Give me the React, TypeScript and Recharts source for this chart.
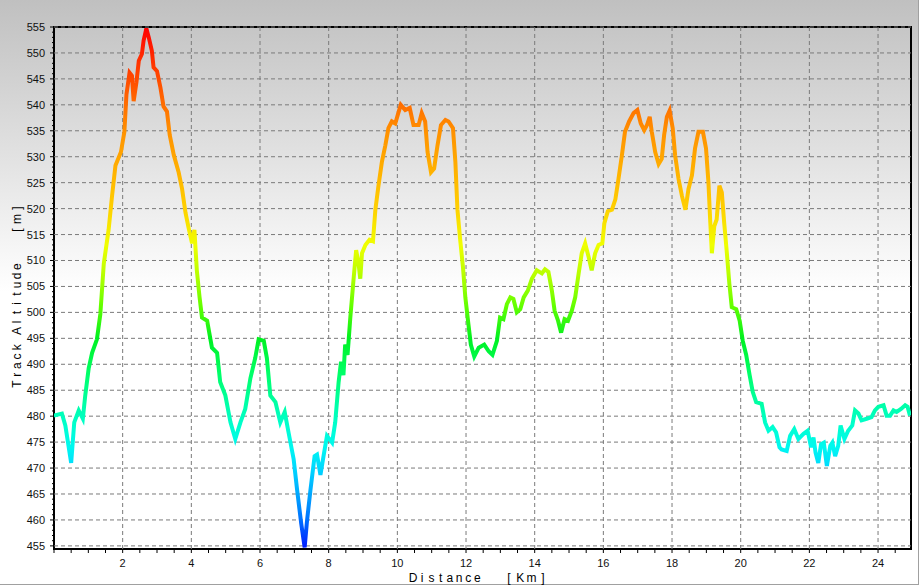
import React from "react";
import { LineChart, Line, XAxis, YAxis, ReferenceLine, ReferenceArea } from "recharts";

// track profile
const distanceKm = [
  0.0, 0.23, 0.33, 0.5, 0.59, 0.72, 0.84, 0.91, 1.01, 1.11, 1.25, 1.35, 1.45, 1.59, 1.69, 1.79, 1.95, 2.05,
  2.11, 2.2, 2.27, 2.32, 2.4, 2.47, 2.56, 2.61, 2.69, 2.76, 2.85, 2.9, 3.0, 3.1, 3.19, 3.29, 3.37, 3.49, 3.63,
  3.73, 3.83, 3.92, 4.02, 4.09, 4.16, 4.24, 4.31, 4.46, 4.6, 4.75, 4.84, 4.99, 5.14, 5.28, 5.43, 5.57, 5.72,
  5.86, 5.96, 6.11, 6.2, 6.3, 6.45, 6.59, 6.72, 6.83, 6.98, 7.08, 7.2, 7.3, 7.37, 7.47, 7.59, 7.66, 7.76, 7.85,
  7.95, 8.1, 8.19, 8.29, 8.36, 8.43, 8.48, 8.55, 8.63, 8.73, 8.8, 8.87, 8.92, 8.97, 9.07, 9.19, 9.29, 9.36,
  9.45, 9.55, 9.65, 9.74, 9.84, 9.94, 10.04, 10.1, 10.23, 10.36, 10.47, 10.62, 10.71, 10.81, 10.88, 10.98,
  11.07, 11.17, 11.27, 11.4, 11.49, 11.62, 11.69, 11.75, 11.83, 11.91, 11.98, 12.07, 12.14, 12.24, 12.37,
  12.53, 12.66, 12.77, 12.9, 12.99, 13.09, 13.19, 13.29, 13.38, 13.48, 13.58, 13.68, 13.8, 13.92, 14.06,
  14.21, 14.3, 14.4, 14.5, 14.58, 14.68, 14.77, 14.87, 14.97, 15.08, 15.18, 15.28, 15.37, 15.47, 15.57,
  15.66, 15.76, 15.86, 15.97, 16.03, 16.13, 16.25, 16.35, 16.44, 16.54, 16.63, 16.75, 16.88, 16.99, 17.09,
  17.19, 17.27, 17.35, 17.41, 17.51, 17.61, 17.7, 17.77, 17.85, 17.93, 18.02, 18.09, 18.19, 18.29, 18.39,
  18.48, 18.58, 18.67, 18.77, 18.9, 18.99, 19.06, 19.11, 19.16, 19.23, 19.3, 19.38, 19.45, 19.52, 19.59,
  19.67, 19.74, 19.87, 19.97, 20.06, 20.16, 20.26, 20.35, 20.45, 20.61, 20.71, 20.81, 20.93, 21.03, 21.13,
  21.19, 21.34, 21.44, 21.56, 21.68, 21.83, 21.95, 22.05, 22.12, 22.18, 22.26, 22.34, 22.42, 22.51, 22.61,
  22.67, 22.75, 22.84, 22.91, 23.02, 23.13, 23.25, 23.33, 23.43, 23.52, 23.67, 23.81, 23.91, 24.01, 24.16,
  24.25, 24.35, 24.45, 24.54, 24.67, 24.79, 24.86, 24.93,
];

const altitudeM = [
  480.1, 480.5, 478.2, 471.0, 478.8, 481.1, 479.5, 484.0, 489.2, 492.2, 494.8, 499.7, 509.4, 515.9, 522.4,
  528.3, 530.9, 534.8, 542.0, 546.2, 545.6, 540.7, 544.3, 548.5, 549.8, 552.4, 554.7, 553.0, 550.4, 547.2,
  546.5, 543.3, 539.7, 538.7, 534.2, 530.3, 527.0, 523.8, 519.2, 516.3, 513.3, 515.9, 508.1, 502.9, 499.0,
  498.4, 493.2, 492.2, 486.6, 484.0, 478.8, 475.6, 478.8, 481.4, 487.3, 491.2, 494.8, 494.5, 491.2, 484.0,
  482.7, 478.8, 480.8, 476.9, 471.7, 465.8, 459.3, 454.7, 459.9, 465.8, 472.3, 472.6, 468.7, 472.3, 476.2,
  474.9, 478.8, 486.6, 490.5, 487.9, 493.8, 491.8, 499.0, 506.8, 512.0, 509.4, 506.5, 511.4, 513.0, 514.0,
  513.7, 519.8, 524.4, 529.0, 532.2, 535.5, 536.8, 536.4, 538.7, 540.0, 539.0, 539.4, 536.1, 536.1, 538.4,
  536.8, 530.9, 527.0, 527.7, 532.2, 536.1, 537.1, 536.8, 535.5, 529.0, 519.8, 514.0, 508.8, 502.9, 497.7,
  493.8, 491.5, 493.2, 493.8, 492.5, 491.8, 494.5, 499.0, 498.7, 501.6, 502.9, 502.6, 500.0, 500.6, 502.9,
  504.2, 506.5, 508.1, 507.5, 508.3, 507.8, 504.2, 500.3, 498.4, 496.1, 498.7, 498.4, 500.3, 502.9, 507.5,
  511.4, 513.3, 510.7, 508.1, 511.4, 513.0, 513.3, 517.2, 519.5, 519.8, 521.8, 525.7, 530.3, 534.8, 536.8,
  538.4, 539.0, 536.4, 535.1, 536.1, 537.7, 534.8, 530.9, 528.6, 529.6, 534.2, 537.7, 538.9, 535.5, 530.3,
  525.7, 522.4, 519.8, 523.8, 526.4, 531.6, 534.8, 534.8, 531.6, 525.1, 517.9, 511.4, 516.6, 517.9, 524.4,
  523.1, 517.2, 512.0, 505.5, 501.0, 500.6, 498.4, 494.5, 491.8, 487.9, 484.7, 482.7, 482.4, 478.8, 477.2,
  477.9, 476.9, 474.0, 473.6, 473.3, 476.2, 477.5, 475.6, 476.6, 477.2, 474.0, 475.9, 473.0, 471.0, 474.6,
  474.9, 470.4, 474.3, 474.9, 472.3, 474.3, 478.2, 475.6, 477.2, 478.2, 481.1, 480.5, 479.2, 479.5, 479.8,
  481.1, 481.8, 482.1, 480.1, 480.1, 481.1, 480.8, 481.4, 482.1, 481.8, 480.1,
];

const yLabelTicks = [455, 460, 465, 470, 475, 480, 485, 490, 495, 500, 505, 510, 515, 520, 525, 530, 535, 540, 545, 550, 555];
const xLabelTicks = [2, 4, 6, 8, 10, 12, 14, 16, 18, 20, 22, 24];

// axis titles, drawn letter by letter like the original
const xTitleWords = ["Distance", "[Km]"];
const yTitleWords = ["Track", "Altitude", "[m]"];

// altitude -> colour of the line
const colorAlt = [555, 547, 540, 535, 528, 520, 513, 507, 501, 495, 489, 483, 478, 474, 470, 465, 460, 455];
const colorHex = [
  "#ff0000", "#ff3c00", "#ff6e00", "#ff9000", "#ffae00", "#ffd000", "#f0ff00", "#b4ff00", "#60ff00",
  "#00f020", "#00ff60", "#00ffa0", "#00ffd0", "#00f8f0", "#00d8ff", "#00a8ff", "#0070ff", "#0020ff",
];

const X_MAX = 24.96;
const Y_MIN = 454.4;
const Y_MAX = 555;
const AXIS_X = 54;
const AXIS_Y = 549;

const data = distanceKm.map((km, i) => ({ km, alt: altitudeM[i] }));
const xTicks = Array.from({ length: 50 }, (_, i) => i * 0.5);
const yTicks = Array.from({ length: 101 }, (_, i) => 455 + i);

const maxAlt = Math.max(...altitudeM);
const minAlt = Math.min(...altitudeM);

const FONT = '"Liberation Sans", Arial, sans-serif';

function YTick(props: any) {
  const { y, payload } = props;
  const v = payload.value;
  const major = v % 5 === 0;
  return (
    <g>
      <line x1={AXIS_X - (major ? 4 : 2)} x2={AXIS_X} y1={y} y2={y} stroke="#000" strokeWidth={1} />
      {major && (
        <text x={AXIS_X - 9} y={y} dy={4} textAnchor="end" fontSize={11} fontFamily={FONT} fill="#111">
          {v}
        </text>
      )}
    </g>
  );
}

function XTick(props: any) {
  const { x, payload } = props;
  const v = payload.value;
  const label = v > 0 && xLabelTicks.includes(v);
  return (
    <g>
      <line x1={x} x2={x} y1={AXIS_Y} y2={AXIS_Y + 4} stroke="#000" strokeWidth={1} />
      {label && (
        <text x={x} y={AXIS_Y + 18} textAnchor="middle" fontSize={11} fontFamily={FONT} fill="#111">
          {v}
        </text>
      )}
    </g>
  );
}

// words: list of strings, starts: centre of first letter of each word, pitches: letter step per word
function SpacedTitle({ words, starts, pitches, cross, vertical }: any) {
  const spans: any[] = [];
  words.forEach((w: string, wi: number) => {
    w.split("").forEach((c: string, i: number) => {
      const along = vertical ? starts[wi] - i * pitches[wi] : starts[wi] + i * pitches[wi];
      spans.push(
        <tspan key={wi + "-" + i} x={vertical ? -along : along} y={cross}>
          {c}
        </tspan>
      );
    });
  });
  return (
    <text
      transform={vertical ? "rotate(-90)" : undefined}
      fontSize={12}
      fontFamily={FONT}
      fill="#000"
      textAnchor="middle"
    >
      {spans}
    </text>
  );
}

export default function App() {
  return (
    <div
      style={{
        position: "absolute",
        left: 0,
        top: 0,
        width: 921,
        height: 586,
        background: "#fff",
        fontFamily: FONT,
      }}
    >
      <div
        style={{
          position: "absolute",
          left: 0,
          top: 0,
          width: 918,
          height: 584,
          borderRight: "1px solid #a0a0a0",
          borderBottom: "1px solid #a0a0a0",
          background: "linear-gradient(to bottom, #c0c0c0 0%, #ffffff 50%, #ffffff 100%)",
        }}
      />
      <div style={{ position: "absolute", left: 0, top: 0 }}>
        <LineChart width={921} height={586} data={data} margin={{ top: 27, right: 10, bottom: 0, left: 0 }}>
          <defs>
            <linearGradient id="altGrad" x1="0" y1="0" x2="0" y2="1">
              {colorAlt.map((a, i) => (
                <stop
                  key={a}
                  offset={Math.min(1, Math.max(0, (maxAlt - a) / (maxAlt - minAlt)))}
                  stopColor={colorHex[i]}
                />
              ))}
            </linearGradient>
          </defs>
          <XAxis
            dataKey="km"
            type="number"
            domain={[0, X_MAX]}
            ticks={xTicks}
            interval={0}
            tick={<XTick />}
            tickLine={false}
            axisLine={false}
            height={37}
            allowDataOverflow
          />
          <YAxis
            type="number"
            domain={[Y_MIN, Y_MAX]}
            ticks={yTicks}
            interval={0}
            tick={<YTick />}
            tickLine={false}
            axisLine={false}
            width={54}
            allowDataOverflow
          />
          {yLabelTicks.map((v) => (
            <ReferenceLine key={"h" + v} y={v} stroke="#7a7a7a" strokeDasharray="4 3" />
          ))}
          {xLabelTicks.map((v) => (
            <ReferenceLine key={"v" + v} x={v} stroke="#7a7a7a" strokeDasharray="4 3" />
          ))}
          <Line
            dataKey="alt"
            type="linear"
            stroke="url(#altGrad)"
            strokeWidth={4}
            dot={false}
            activeDot={false}
            isAnimationActive={false}
          />
          <ReferenceArea
            x1={0}
            x2={X_MAX}
            y1={Y_MIN}
            y2={Y_MAX}
            fill="none"
            fillOpacity={0}
            stroke="#000"
            strokeWidth={2}
            ifOverflow="visible"
          />
        </LineChart>
      </div>
      <svg width={921} height={586} style={{ position: "absolute", left: 0, top: 0, pointerEvents: "none" }}>
        <SpacedTitle words={xTitleWords} starts={[413, 509]} pitches={[9.2, 11.3]} cross={582} />
        <SpacedTitle words={yTitleWords} starts={[384, 331, 230]} pitches={[9.2, 9.2, 11]} cross={21} vertical />
      </svg>
    </div>
  );
}
